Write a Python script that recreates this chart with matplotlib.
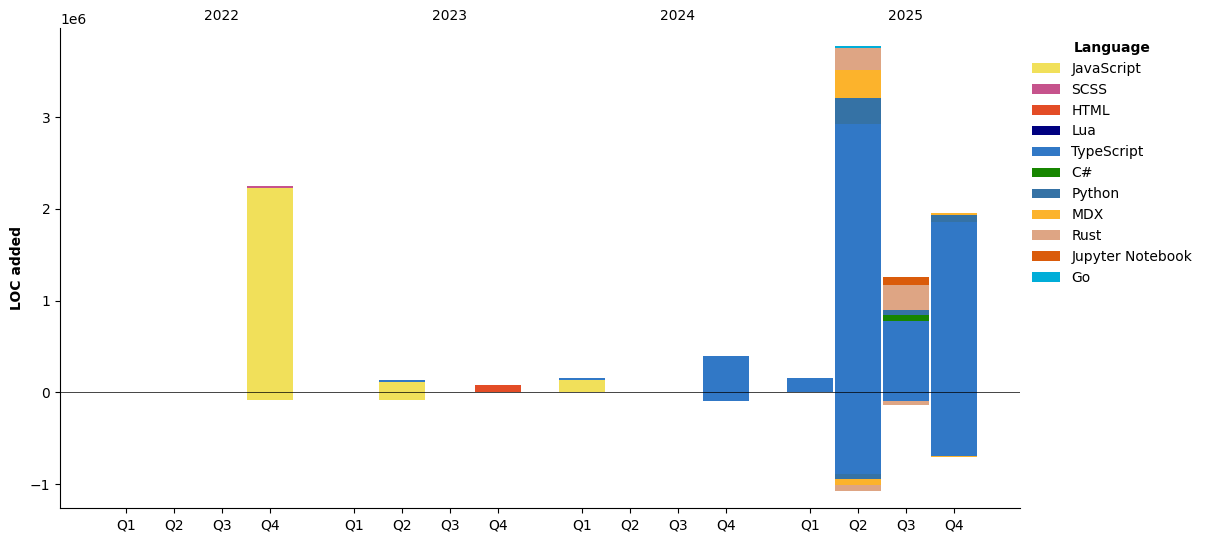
# loc_by_quarter.py
# Stacked bars of LOC added (positive) and removed (negative) per quarter, by language

import numpy as np
import matplotlib.pyplot as plt
from matplotlib.patches import Patch

# -------------------------------
# Data
# -------------------------------
years = [2022, 2023, 2024, 2025]
quarters = ["Q1", "Q2", "Q3", "Q4"]

languages = ["JavaScript", "SCSS", "HTML", "Lua", "TypeScript", "C#",
             "Python", "MDX", "Rust", "Jupyter Notebook", "Go"]
colors = ["#f1e05a", "#c6538c", "#e34c26", "#000080", "#3178c6", "#178600",
          "#3572A5", "#fcb32c", "#dea584", "#DA5B0B", "#00ADD8"]

# 16 periods: 2022Q1 .. 2025Q4
js_added      = [0, 0, 0, 2225000, 0, 112000, 0, 0, 134000, 0, 0, 0, 0, 0, 0, 0]
js_removed    = [0, 0, 0, -87000, 0, -85000, 0, 0, 0, 0, 0, 0, 0, 0, 0, 0]
scss_added    = [0, 0, 0, 20000, 0, 0, 0, 0, 0, 0, 0, 0, 0, 0, 0, 0]
html_added    = [0, 0, 0, 0, 0, 0, 0, 80000, 0, 0, 0, 0, 0, 0, 0, 0]
lua_added     = [0, 0, 0, 0, 0, 0, 0, 3000, 0, 0, 0, 0, 0, 0, 0, 0]
ts_added      = [0, 0, 0, 0, 0, 20000, 0, 0, 20000, 0, 0, 396000, 156000, 2926000, 778000, 1857000]
ts_removed    = [0, 0, 0, 0, 0, 0, 0, 0, 0, 0, 0, -95000, 0, -891000, -95000, -691000]
cs_added      = [0, 0, 0, 0, 0, 0, 0, 0, 0, 0, 0, 0, 0, 0, 62000, 0]
py_added      = [0, 0, 0, 0, 0, 0, 0, 0, 0, 0, 0, 0, 0, 284000, 58000, 76000]
py_removed    = [0, 0, 0, 0, 0, 0, 0, 0, 0, 0, 0, 0, 0, -55000, 0, 0]
mdx_added     = [0, 0, 0, 0, 0, 0, 0, 0, 0, 0, 0, 0, 0, 305000, 0, 22000]
mdx_removed   = [0, 0, 0, 0, 0, 0, 0, 0, 0, 0, 0, 0, 0, -65000, 0, -10000]
rust_added    = [0, 0, 0, 0, 0, 0, 0, 0, 0, 0, 0, 0, 0, 243000, 273000, 0]
rust_removed  = [0, 0, 0, 0, 0, 0, 0, 0, 0, 0, 0, 0, 0, -62000, -44000, 0]
jup_added     = [0, 0, 0, 0, 0, 0, 0, 0, 0, 0, 0, 0, 0, 0, 87000, 0]
go_added      = [0, 0, 0, 0, 0, 0, 0, 0, 0, 0, 0, 0, 0, 22000, 0, 0]

zeros = [0] * 16
added = [js_added, scss_added, html_added, lua_added, ts_added, cs_added,
         py_added, mdx_added, rust_added, jup_added, go_added]
removed = [js_removed, zeros, zeros, zeros, ts_removed, zeros,
           py_removed, mdx_removed, rust_removed, zeros, zeros]

# -------------------------------
# Positions: 4 quarters per year, gap between years
# -------------------------------
year_step = 4.75
x = np.array([yi * year_step + qi for yi in range(len(years)) for qi in range(4)])
bar_width = 0.95

fig = plt.figure(figsize=(12.07, 5.42), dpi=100)
ax = fig.add_axes([0.0497, 0.062, 0.7953, 0.886])

pos_bottom = np.zeros(len(x))
neg_bottom = np.zeros(len(x))
for lang, color, pos, neg in zip(languages, colors, added, removed):
    pos = np.array(pos, dtype=float)
    neg = np.array(neg, dtype=float)
    ax.bar(x, pos, bar_width, bottom=pos_bottom, color=color, linewidth=0)
    ax.bar(x, neg, bar_width, bottom=neg_bottom, color=color, linewidth=0)
    pos_bottom += pos
    neg_bottom += neg

ax.axhline(0, color="black", linewidth=0.6, alpha=0.85)

ax.set_xticks(x)
ax.set_xticklabels(quarters * len(years))
ax.set_xlim(x[0] - 1.375, x[-1] + 1.375)
ax.set_ylim(-1.265e6, 3.97e6)
ax.set_ylabel("LOC added", fontweight="bold")

# Year labels above the plot
for yi, year in enumerate(years):
    ax.annotate(str(year), xy=(yi * year_step + 2, 1.0), xycoords=("data", "axes fraction"),
                xytext=(0, 4), textcoords="offset points", ha="center", va="bottom",
                fontsize=10)

ax.spines["top"].set_visible(False)
ax.spines["right"].set_visible(False)

handles = [Patch(facecolor=c, label=l) for l, c in zip(languages, colors)]
leg = ax.legend(handles=handles, title="Language", loc="upper left",
                bbox_to_anchor=(1.0, 1.0), frameon=False)
leg.get_title().set_fontweight("bold")

plt.savefig("out.png", dpi=100)
plt.close()
